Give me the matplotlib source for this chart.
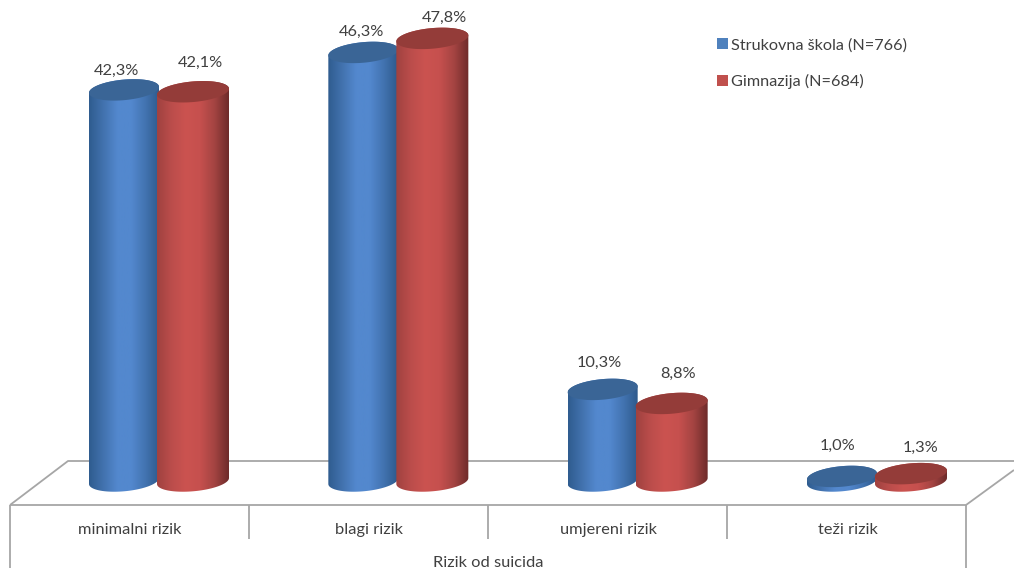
import numpy as np
import matplotlib
matplotlib.use("Agg")
import matplotlib.pyplot as plt
from matplotlib.colors import LinearSegmentedColormap
from matplotlib.patches import Polygon, Patch
from matplotlib.lines import Line2D

categories = ["minimalni rizik", "blagi rizik", "umjereni rizik", "teži rizik"]
strukovna = [42.3, 46.3, 10.3, 1.0]
gimnazija = [42.1, 47.8, 8.8, 1.3]
series_names = ["Strukovna škola (N=766)", "Gimnazija (N=684)"]
axis_title = "Rizik od suicida"

W, H = 1014, 568
PX_CAT = 239.33      # pixels per category
PX_VAL = 9.36        # pixels per percentage point
X0, Y0 = 159.0, 485.8  # pixel position of category 0 / value 0
BASE_Y = 481.0       # pixel centre of the cylinder bases

plt.rcParams["font.family"] = ["Lato", "Open Sans", "DejaVu Sans"]
TXT = "#404040"
GRID = "#A6A6A6"

fig = plt.figure(figsize=(W / 100, H / 100), dpi=100)
ax = fig.add_axes([0, 0, 1, 1])
ax.axis("off")
xlim = (-X0 / PX_CAT, (W - X0) / PX_CAT)
ylim = ((Y0 - H) / PX_VAL, Y0 / PX_VAL)


def px(x, y):
    return (x - X0) / PX_CAT, (Y0 - y) / PX_VAL


def frame(xs, ys):
    pts = [px(a, b) for a, b in zip(xs, ys)]
    ax.add_line(Line2D([p[0] for p in pts], [p[1] for p in pts],
                       color=GRID, lw=1.3, zorder=1, solid_capstyle="butt"))


# floor and category box
frame([10, 68, 1014], [505, 461, 461])
frame([10, 966, 1014], [505, 505, 470])
frame([10, 10], [505, 568])
frame([966, 966], [505, 568])
for xp in (249, 488, 727):
    frame([xp, xp], [505, 539])

styles = [
    dict(stops=["#2F5C8F", "#4272AE", "#5388CE", "#5388CE", "#4273B0", "#2E5A8C"],
         top="#3A6596", flat="#4F81BD", shift=-35 / PX_CAT, hw=35.0 / PX_CAT),
    dict(stops=["#A04240", "#BB4D4B", "#CB5350", "#C6504E", "#A44442", "#6E2B2A"],
         top="#943C39", flat="#C0504D", shift=34 / PX_CAT, hw=36.0 / PX_CAT),
]
ell_b = 10.3 / PX_VAL
ell_t = 3.0 / PX_VAL
base_v = (Y0 - BASE_Y) / PX_VAL
z = 2


def ell(c, w, v, th):
    return c + w * np.cos(th), v + ell_b * np.sin(th) + ell_t * np.cos(th)


for vals, st in zip((strukovna, gimnazija), styles):
    cmap = LinearSegmentedColormap.from_list("c", st["stops"])
    w = st["hw"]
    for i, v in enumerate(vals):
        c = i + st["shift"]
        bx, by = ell(c, w, base_v, np.linspace(np.pi, 2 * np.pi, 60))
        tx, ty = ell(c, w, v, np.linspace(0, np.pi, 60))
        body = Polygon(np.column_stack([np.r_[bx, tx], np.r_[by, ty]]),
                       closed=True, transform=ax.transData, fc="none", ec="none")
        ax.add_patch(body)
        im = ax.imshow(np.linspace(0, 1, 128)[None, :], cmap=cmap, aspect="auto",
                       extent=(c - w, c + w, -3, v + 3), zorder=z)
        im.set_clip_path(body)
        ex, ey = ell(c, w, v, np.linspace(0, 2 * np.pi, 120))
        ax.add_patch(Polygon(np.column_stack([ex, ey]), closed=True,
                             fc=st["top"], ec="none", zorder=z + 0.5))
        z += 1

# value labels: pixel offset of each text from the top of its cylinder
label_dx = [[-7, -2, -3, -4], [7, 12, 6, 10]]
label_dy = [[19, 21, 27, 31], [29, 21, 30, 26]]
for s, vals in enumerate((strukovna, gimnazija)):
    for i, v in enumerate(vals):
        ax.annotate(f"{v:.1f}%".replace(".", ","), (i + styles[s]["shift"], v),
                    xytext=(label_dx[s][i] * 0.72, label_dy[s][i] * 0.72),
                    textcoords="offset points", ha="center", va="center",
                    fontsize=11.8, color=TXT, zorder=50)

for i, name in enumerate(categories):
    x, y = px(129.5 + PX_CAT * i, 530)
    ax.text(x, y, name, ha="center", va="center", fontsize=11.8, color=TXT)
x, y = px(488, 563)
ax.text(x, y, axis_title, ha="center", va="center", fontsize=11.8, color=TXT)

ax.legend(handles=[Patch(fc=st["flat"], ec="none") for st in styles], labels=series_names,
          loc="upper left", bbox_to_anchor=(712 / W, 1 - 33 / H), bbox_transform=fig.transFigure,
          frameon=False, fontsize=11.7, labelcolor=TXT, handlelength=0.7, handleheight=0.7,
          handletextpad=0.15, labelspacing=1.34, borderpad=0.3, borderaxespad=0)

ax.set_xlim(*xlim)
ax.set_ylim(*ylim)
fig.savefig("out.png", dpi=100)
